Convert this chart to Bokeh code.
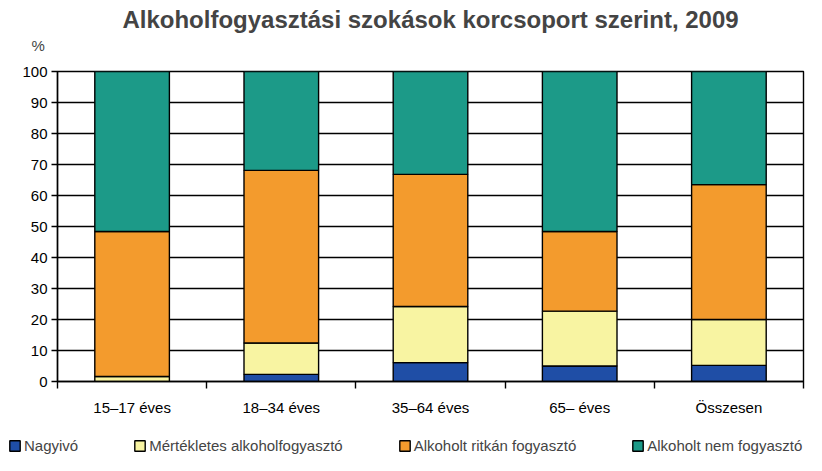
from bokeh.plotting import figure
from bokeh.layouts import column
from bokeh.models import (FixedTicker, Legend, LegendItem, Title, Range1d,
                          ColumnDataSource)
from bokeh.embed import file_html
from bokeh.resources import INLINE

# ---- data -------------------------------------------------------------
categories = ["15–17 éves", "18–34 éves", "35–64 éves", "65– éves", "Összesen"]
nagyivo = [0.0, 2.3, 6.1, 5.0, 5.2]
mertekletes = [1.6, 10.1, 18.1, 17.7, 14.8]
ritkan = [46.8, 55.7, 42.6, 25.7, 43.5]
nem_fogyaszto = [51.6, 31.9, 33.2, 51.6, 36.5]
series_names = ["Nagyivó", "Mértékletes alkoholfogyasztó",
                "Alkoholt ritkán fogyasztó", "Alkoholt nem fogyasztó"]
y_ticks = [0, 10, 20, 30, 40, 50, 60, 70, 80, 90, 100]
title_text = "Alkoholfogyasztási szokások korcsoport szerint, 2009"
y_unit = "%"

colors = ["#1f4ea6", "#f8f4a2", "#f39b2d", "#1c9a88"]
FONT = "Liberation Sans"

# ---- main figure --------------------------------------------------------
x_pos = [i + 0.5 for i in range(len(categories))]
keys = ["nagyivo", "mertekletes", "ritkan", "nem"]
source = ColumnDataSource(dict(x=x_pos, nagyivo=nagyivo, mertekletes=mertekletes,
                               ritkan=ritkan, nem=nem_fogyaszto))

p = figure(width=806, height=432,
           x_range=Range1d(0, len(categories)), y_range=Range1d(0, 100),
           output_backend="svg", toolbar_location=None,
           min_border_left=57, min_border_right=3,
           min_border_top=71, min_border_bottom=51)

p.vbar_stack(keys, x="x", width=0.5, source=source,
             fill_color=colors, line_color="black", line_width=1.4)

# x axis: labels at centres, tick marks at category boundaries
p.xaxis.ticker = FixedTicker(ticks=x_pos,
                             minor_ticks=list(range(len(categories) + 1)))
p.xaxis.major_label_overrides = {x: c for x, c in zip(x_pos, categories)}
p.xaxis.major_tick_out = 0
p.xaxis.major_tick_in = 0
p.xaxis.minor_tick_out = 7
p.xaxis.minor_tick_in = 0
p.xaxis.minor_tick_line_color = "black"
p.xaxis.minor_tick_line_width = 1.4
p.xaxis.axis_line_color = "black"
p.xaxis.axis_line_width = 1.4
p.xaxis.major_label_standoff = 10
p.xaxis.major_label_text_font = FONT
p.xaxis.major_label_text_font_size = "15px"
p.xaxis.major_label_text_color = "black"

# y axis
p.yaxis.ticker = FixedTicker(ticks=y_ticks)
p.yaxis.major_tick_out = 6
p.yaxis.major_tick_in = 0
p.yaxis.minor_tick_line_color = None
p.yaxis.major_tick_line_color = "black"
p.yaxis.major_tick_line_width = 1.4
p.yaxis.axis_line_color = "black"
p.yaxis.axis_line_width = 1.4
p.yaxis.major_label_standoff = 4
p.yaxis.major_label_text_font = FONT
p.yaxis.major_label_text_font_size = "15px"
p.yaxis.major_label_text_color = "black"

# grid / outline
p.xgrid.visible = False
p.ygrid.ticker = FixedTicker(ticks=y_ticks)
p.ygrid.grid_line_color = "black"
p.ygrid.grid_line_width = 1.4
p.outline_line_color = "black"
p.outline_line_width = 1.4

# titles
p.add_layout(Title(text=y_unit, text_font=FONT, text_font_size="15px",
                   text_font_style="normal", align="left", offset=-26,
                   standoff=35), "above")
p.add_layout(Title(text=title_text, text_font=FONT, text_font_size="24px",
                   text_font_style="bold", align="center", standoff=-30), "above")

# ---- legend strip ---------------------------------------------------------
p2 = figure(width=806, height=23, x_range=Range1d(0, 1), y_range=Range1d(0, 1),
            output_backend="svg", toolbar_location=None,
            x_axis_location=None, y_axis_location=None,
            min_border_left=0, min_border_right=0,
            min_border_top=0, min_border_bottom=0)
p2.xgrid.visible = False
p2.ygrid.visible = False
p2.outline_line_color = None
legend_renderers = p2.vbar_stack(keys, x="x", width=0.5, source=source,
                                 fill_color=colors, line_color="black",
                                 line_width=1.4)
for r in legend_renderers:
    r.visible = False

legend = Legend(items=[LegendItem(label=n, renderers=[r])
                       for n, r in zip(series_names, legend_renderers)],
                orientation="horizontal", location=(8, 1),
                spacing=55, glyph_width=13, glyph_height=13, label_standoff=3,
                label_text_font=FONT, label_text_font_size="15px",
                label_height=14, padding=0, margin=0,
                border_line_color=None, background_fill_alpha=0,
                inactive_fill_alpha=0)
p2.add_layout(legend, "center")

# keep the legend strip's frame independent of the chart's frame
for fig in (p, p2):
    if "frame_align" in fig.properties():
        fig.frame_align = False

layout = column(p, p2, spacing=0)
open("out.html", "w").write(file_html(layout, INLINE))
